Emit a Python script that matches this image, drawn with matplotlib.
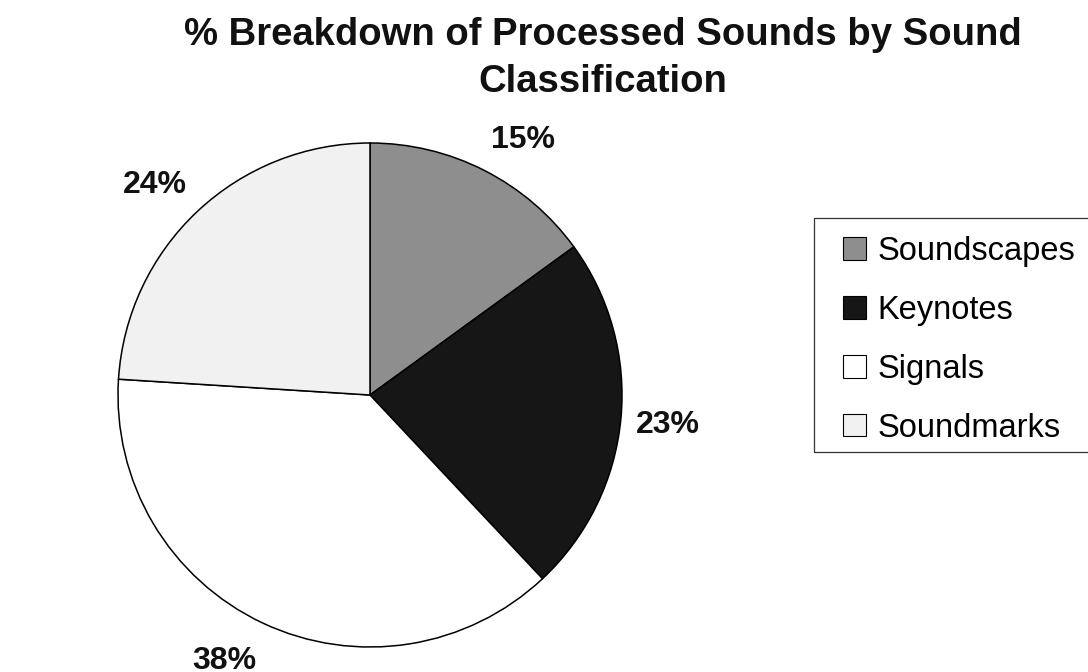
import matplotlib
matplotlib.use("Agg")
import numpy as np
import matplotlib.pyplot as plt
from matplotlib.patches import Patch, Rectangle

categories = ["Soundscapes", "Keynotes", "Signals", "Soundmarks"]
values = [15, 23, 38, 24]
colors = ["#8e8e8e", "#161616", "#ffffff", "#f1f1f1"]
title_lines = ["% Breakdown of Processed Sounds by Sound", "Classification"]

plt.rcParams['font.family'] = ['Liberation Sans', 'DejaVu Sans']

W, H = 1088, 672
fig = plt.figure(figsize=(W / 100, H / 100), dpi=100)
fig.patch.set_facecolor("white")

cx, cy, r = 370, 395, 252
ax = fig.add_axes([(cx - r) / W, (H - cy - r) / H, 2 * r / W, 2 * r / H])
wedges, _ = ax.pie(
    values, colors=colors, startangle=90, counterclock=False, radius=1,
    wedgeprops=dict(edgecolor="black", linewidth=1.1))
ax.set_xlim(-1, 1)
ax.set_ylim(-1, 1)
ax.set_aspect("equal")
ax.axis("off")

# data labels placed just outside each wedge (Excel-style corner anchoring)
for w, v in zip(wedges, values):
    mid = np.deg2rad((w.theta1 + w.theta2) / 2)
    c, s = np.cos(mid), np.sin(mid)
    x, y = 1.06 * c, 1.10 * s
    ha = "left" if c > 0.3 else ("right" if c < -0.3 else "center")
    va = "baseline" if s > 0.3 else ("top" if s < -0.3 else "center_baseline")
    ax.text(x, y, f"{v}%", ha=ha, va=va, fontsize=23, fontweight="bold",
            color="#111111", clip_on=False)

for i, line in enumerate(title_lines):
    fig.text(603 / W, 1 - (31 + 47 * i) / H, line, ha="center", va="center_baseline",
             fontsize=27.5, fontweight="bold", color="#111111")

handles = [Patch(facecolor=c, edgecolor="black", linewidth=0.8) for c in colors]
leg = fig.legend(handles, categories, loc="upper left",
                 bbox_to_anchor=(843 / W, 1 - 236 / H),
                 fontsize=23.5, frameon=False,
                 handlelength=0.70, handleheight=0.68, handletextpad=0.35,
                 labelspacing=0.855, borderpad=0, borderaxespad=0)

# legend frame
fig.add_artist(Rectangle((814 / W, 1 - 452 / H), 300 / W, 234 / H,
                         transform=fig.transFigure, facecolor="none",
                         edgecolor="#333333", linewidth=0.9, clip_on=False))

fig.savefig("out.png", dpi=100, facecolor="white")
